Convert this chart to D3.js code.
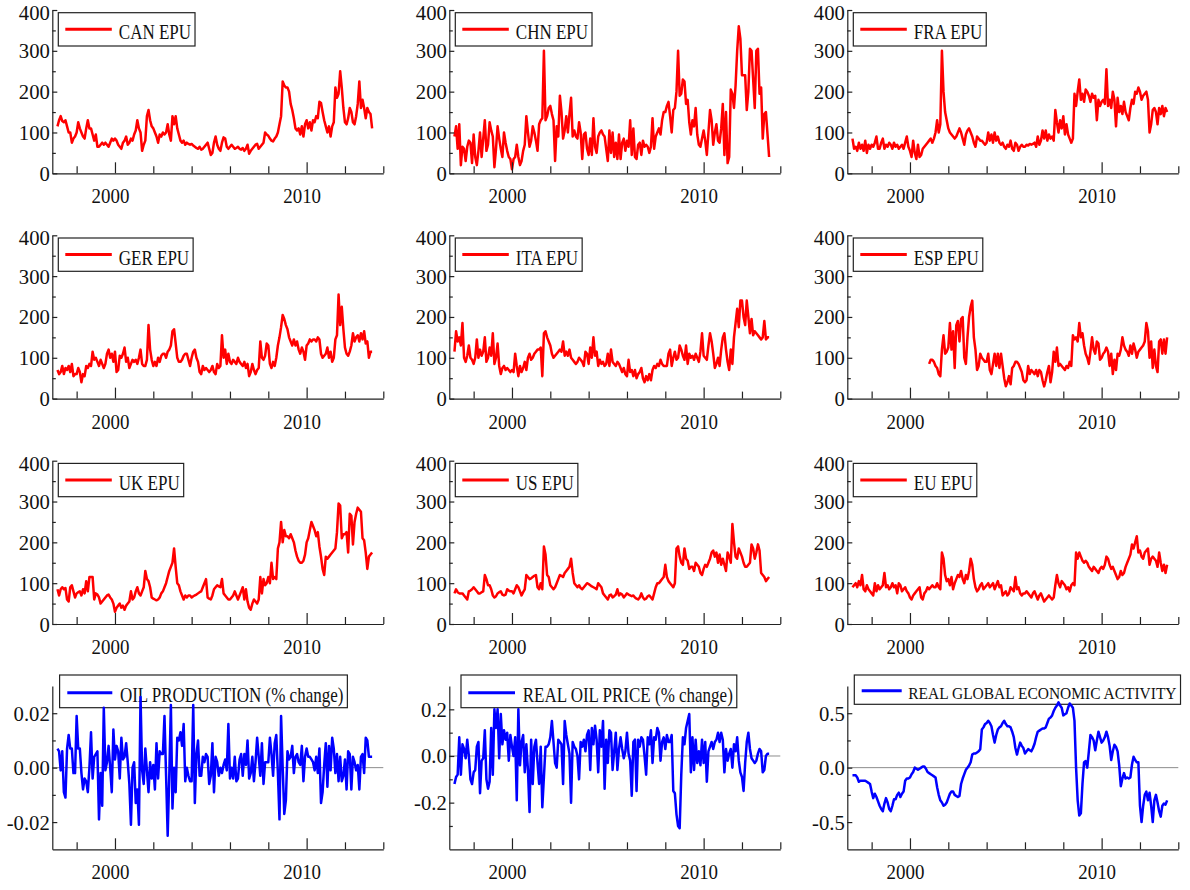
<!DOCTYPE html>
<html>
<head>
<meta charset="utf-8">
<script src="https://cdn.jsdelivr.net/npm/d3@7"></script>
<style>
  body { margin: 0; background: #fff; }
  svg text { font-family: "Liberation Serif", "Times New Roman", serif; fill: #111; }
</style>
</head>
<body>
<svg id="chart" width="1190" height="890"></svg>
<script>
// Monthly series, January of the start year onward (EPU indices, oil market, activity).
const canEPU = [
  115,130,140,128,125,130,115,100,100,75,85,90,
  100,125,110,100,90,85,110,130,110,110,95,80,
  95,65,65,70,75,70,75,70,65,75,85,80,
  85,80,70,65,60,75,80,90,70,75,85,80,
  95,105,130,110,100,55,70,80,140,155,130,115,
  110,100,90,75,95,90,100,95,100,120,95,80,
  140,120,140,110,95,80,75,80,70,75,72,70,
  72,68,65,62,60,65,58,60,65,70,75,60,
  45,50,75,90,70,60,55,75,88,85,65,60,
  65,70,65,60,62,65,60,58,62,55,60,70,
  48,55,60,65,70,72,60,65,70,75,100,95,
  92,85,80,78,85,90,100,120,140,225,215,210,
  210,200,170,155,135,110,105,110,95,115,90,120,
  130,110,125,105,130,125,140,135,175,172,150,130,
  115,100,115,90,115,125,210,185,195,250,210,160,
  125,120,135,160,150,125,120,140,170,225,160,180,
  160,135,160,150,145,110
];
const chnEPU = [
  90,115,60,120,20,65,60,30,65,80,75,25,
  95,40,20,55,100,40,85,130,55,70,125,105,
  90,15,60,115,85,60,40,100,75,55,40,35,
  10,35,40,70,40,20,30,55,70,140,100,65,
  80,115,100,80,55,120,130,135,300,130,140,160,
  165,145,130,30,115,90,190,150,85,105,140,100,
  145,185,90,105,90,85,125,100,35,95,100,60,
  45,85,45,135,65,50,90,100,105,95,90,60,
  30,105,50,100,40,75,35,95,35,75,85,55,
  80,65,130,45,110,40,35,70,75,45,80,65,
  70,65,50,65,135,60,90,100,110,95,130,150,
  150,165,175,140,100,155,160,200,300,190,195,230,
  225,170,180,125,95,130,115,160,95,70,65,85,
  105,80,45,100,155,130,70,100,120,80,75,110,
  170,45,150,25,40,205,195,160,215,300,360,330,
  240,240,240,155,200,305,300,230,160,300,305,195,
  210,85,145,150,95,40
];
const fraEPU = [
  85,60,65,55,75,60,70,55,80,50,70,60,
  70,65,75,90,60,60,75,85,60,70,65,75,
  70,60,75,65,70,60,65,70,60,75,90,65,
  55,40,80,50,35,70,40,45,60,65,70,75,
  80,85,75,85,100,130,100,120,300,200,150,130,
  110,100,95,90,85,90,100,110,100,85,70,95,
  105,110,100,90,75,65,90,85,80,80,75,70,
  75,100,80,95,75,100,80,90,75,70,75,65,
  60,70,65,80,60,55,75,70,55,65,70,65,
  65,70,68,72,70,72,75,65,90,70,80,105,
  85,105,80,95,85,90,80,155,125,100,130,110,
  140,95,120,95,85,75,85,195,165,200,230,180,
  195,175,205,200,190,175,195,185,190,130,180,165,
  175,180,170,255,165,180,160,200,180,115,185,150,
  165,145,175,150,140,130,160,180,170,200,195,210,
  200,180,190,195,200,180,100,120,155,160,150,120,
  160,145,165,140,160,150
];
const gerEPU = [
  70,60,65,80,60,75,70,80,65,85,55,60,
  60,75,65,40,60,55,80,75,85,80,115,95,
  100,90,80,95,85,75,85,110,120,100,110,90,
  115,65,70,105,100,110,125,90,100,75,85,95,
  90,95,85,100,120,85,80,80,95,180,120,95,
  80,90,80,100,90,105,110,110,100,115,120,130,
  165,170,135,100,90,90,95,105,110,110,95,80,
  100,115,120,100,90,65,60,80,70,75,70,65,
  70,80,65,60,85,75,80,155,100,120,85,110,
  90,85,95,90,85,100,90,85,80,90,75,85,
  55,65,85,70,60,70,75,140,100,95,105,135,
  130,85,75,90,80,100,130,150,175,205,195,180,
  170,150,140,130,145,130,140,120,110,125,115,95,
  130,135,145,140,145,145,140,150,145,110,100,105,
  110,125,100,115,90,100,145,155,255,180,225,170,
  125,110,105,115,130,160,140,150,155,140,160,145,
  165,135,140,100,115,115
];
const itaEPU = [
  115,165,140,150,130,185,100,90,105,130,100,95,
  85,100,145,100,120,105,115,150,90,100,125,105,
  160,85,100,135,80,60,75,80,70,75,70,65,
  70,65,110,80,55,80,65,75,90,70,100,110,
  95,100,110,115,120,120,125,55,160,165,150,140,
  130,110,100,105,110,115,120,115,140,105,115,105,
  120,100,95,90,85,90,100,95,90,80,115,110,
  85,125,100,150,105,115,80,95,85,90,80,85,
  110,80,120,90,85,80,90,85,75,65,75,60,
  55,95,65,70,55,70,50,60,65,75,50,40,
  55,45,60,45,70,80,75,85,80,95,85,80,
  80,80,110,120,80,100,115,95,100,130,120,105,
  95,130,85,110,100,105,95,110,100,90,115,160,
  105,100,95,130,160,140,110,75,85,100,80,120,
  150,160,120,90,70,120,85,150,185,220,175,240,
  240,200,180,240,200,160,195,155,165,160,155,150,
  145,150,190,145,150,150
];
// Spain's index starts in January 2001
const espEPU = [
  85,95,95,90,80,75,60,55,120,155,110,115,
  125,185,120,165,75,180,190,140,195,200,100,85,
  150,200,225,240,150,120,70,80,110,100,95,90,
  90,110,70,60,85,110,80,110,75,110,80,50,
  30,40,55,35,75,80,90,90,85,75,65,45,
  40,45,80,60,70,65,60,70,55,70,65,45,
  30,45,65,80,40,65,115,90,125,80,85,80,
  75,70,80,75,90,80,155,145,150,140,185,150,
  160,130,110,100,85,115,150,120,110,140,135,95,
  100,110,115,125,115,80,110,60,95,70,110,105,
  120,150,130,120,115,105,130,110,135,120,100,115,
  120,125,130,140,185,165,100,140,75,120,80,65,
  140,145,110,145,110,150
];
const ukEPU = [
  85,70,85,90,85,88,60,55,90,95,80,65,
  75,78,80,70,85,75,105,80,115,115,115,60,
  75,72,65,50,55,60,65,70,72,65,60,50,
  30,40,45,50,40,45,35,45,50,55,80,60,
  65,80,90,75,70,80,90,130,110,105,90,65,
  62,60,58,60,65,75,80,90,100,115,130,140,
  150,185,140,100,95,80,70,60,70,65,70,70,
  65,68,70,72,75,78,80,90,100,110,65,62,
  60,70,85,90,95,92,90,110,75,70,65,60,
  60,65,70,80,70,60,70,80,90,60,85,55,
  40,35,50,60,55,50,60,115,75,110,95,100,
  115,100,150,110,115,110,185,200,250,200,230,215,
  215,210,220,210,200,180,165,155,150,150,155,170,
  200,210,230,250,240,230,215,225,190,165,135,120,
  165,160,165,170,175,180,185,225,295,290,210,220,
  220,225,175,270,265,195,250,270,285,280,275,210,
  205,175,135,165,170,175
];
const usEPU = [
  75,85,78,75,75,75,70,65,60,80,82,85,
  90,85,80,75,75,78,80,120,110,95,95,85,
  70,65,68,75,78,80,72,70,72,85,82,80,
  80,75,85,95,90,80,70,78,85,120,115,110,
  112,115,118,120,90,85,100,85,190,170,120,115,
  95,90,85,90,100,110,120,118,115,125,130,135,
  140,160,125,100,95,90,95,88,85,90,95,100,
  98,95,92,90,88,85,100,95,90,75,70,65,
  60,70,72,65,68,72,85,70,75,72,65,70,
  75,72,70,68,70,65,62,60,65,75,65,60,
  62,68,70,65,60,75,90,100,100,105,110,115,
  145,115,105,100,95,90,100,185,190,165,150,145,
  185,160,155,135,140,140,130,150,145,140,125,120,
  135,145,140,150,160,175,180,165,175,150,170,145,
  160,145,130,175,165,150,245,200,165,160,185,175,
  165,150,140,140,145,150,195,185,160,175,195,180,
  125,120,115,105,110,115
];
const euEPU = [
  90,95,100,90,105,95,120,85,80,95,85,80,
  75,70,100,80,95,85,90,95,125,90,95,85,
  90,100,90,95,75,100,95,80,85,90,80,75,
  65,60,70,75,80,85,90,65,60,75,80,90,
  85,90,95,90,90,100,90,85,175,160,120,105,
  110,95,115,85,100,110,120,115,130,110,100,120,
  110,130,160,145,110,90,80,85,95,100,85,90,
  95,100,90,95,100,85,95,105,90,95,70,75,
  80,70,75,90,85,80,115,85,90,75,70,75,
  75,80,75,70,65,75,80,70,60,70,75,65,
  55,60,65,70,65,60,65,95,120,100,90,105,
  100,95,85,90,80,95,100,95,175,160,175,165,
  155,150,155,150,140,135,130,140,135,130,125,135,
  140,135,145,165,160,145,135,140,130,120,110,115,
  130,120,125,140,150,160,170,195,185,200,215,175,
  180,165,160,175,180,185,145,160,165,160,155,140,
  175,150,130,145,125,145
];
const oilProduction = [
  0.007,0.006,-0.001,0.006,-0.009,-0.011,0.007,0.012,0.007,0.007,-0.002,-0.002,
  0.019,0.007,0.007,-0.002,-0.008,-0.004,-0.005,-0.009,0.000,0.013,-0.004,0.004,
  0.005,0.006,-0.019,-0.002,-0.014,0.022,-0.001,0.002,0.008,0.000,-0.009,0.014,
  0.003,0.008,0.006,-0.004,0.011,0.003,0.004,0.009,0.002,-0.006,-0.021,0.000,
  0.002,-0.013,-0.008,-0.021,0.026,-0.001,-0.006,0.007,-0.001,-0.009,0.002,-0.004,
  0.001,-0.008,0.009,-0.004,0.006,0.005,0.005,0.019,-0.003,-0.025,-0.003,0.023,
  -0.015,0.000,-0.009,0.011,0.010,0.013,0.008,0.016,-0.005,0.000,-0.003,-0.005,
  -0.005,0.023,-0.013,0.005,0.010,-0.003,-0.003,0.004,0.002,0.005,0.004,-0.006,
  -0.003,0.009,-0.009,0.004,0.002,-0.003,0.000,-0.002,0.001,0.003,-0.001,0.016,
  -0.004,0.000,-0.004,0.004,-0.005,-0.004,0.003,0.005,-0.003,0.005,0.001,0.010,
  -0.004,-0.002,0.004,-0.005,0.002,0.011,0.004,-0.003,0.009,-0.006,0.002,0.002,
  0.002,0.011,0.005,-0.003,0.009,0.012,-0.002,-0.019,0.019,0.000,-0.017,-0.012,
  0.006,0.003,0.004,0.008,-0.002,0.004,0.005,0.002,0.001,0.008,-0.005,0.004,
  0.007,0.004,0.004,0.003,0.002,-0.001,0.004,-0.002,0.007,-0.013,-0.009,0.001,
  0.009,-0.007,0.008,-0.001,0.011,0.007,-0.002,0.005,-0.005,0.004,-0.005,-0.003,
  0.003,-0.008,0.006,0.005,-0.008,0.004,0.002,-0.001,0.001,-0.008,0.004,0.005,
  -0.002,0.011,0.010,0.004,0.004,0.004
];
const realOilPrice = [
  -0.12,-0.09,-0.08,0.08,-0.08,0.05,0.03,-0.01,0.07,0.00,-0.10,-0.12,
  -0.07,-0.06,0.04,0.06,-0.16,-0.02,-0.01,0.11,-0.10,-0.14,-0.11,0.12,
  -0.08,0.20,0.12,0.20,-0.01,0.18,0.05,0.11,0.07,0.10,-0.02,0.09,
  0.04,0.00,0.08,-0.19,0.20,-0.04,0.06,0.09,-0.07,0.05,-0.06,-0.24,
  0.07,-0.12,0.04,0.07,-0.03,-0.12,0.04,-0.22,-0.09,0.04,0.04,0.05,
  0.08,0.15,0.06,-0.03,-0.05,0.07,0.06,0.05,-0.12,0.15,0.09,0.05,
  0.01,-0.20,0.06,0.04,0.03,0.00,-0.10,0.06,0.04,0.07,0.02,0.09,
  0.11,-0.06,0.12,0.05,0.13,0.07,-0.07,0.11,0.04,0.15,-0.14,0.07,
  -0.03,0.11,0.10,-0.06,0.02,0.10,-0.06,0.03,0.08,0.03,-0.01,0.02,
  0.10,0.01,-0.02,-0.17,0.06,0.07,-0.15,0.07,0.04,0.08,0.07,0.00,
  -0.08,0.08,0.05,0.11,-0.03,0.08,0.07,0.12,0.10,-0.02,0.06,0.08,
  0.03,0.09,0.06,0.06,0.09,-0.15,-0.16,-0.25,-0.30,-0.31,-0.08,0.08,
  0.05,0.12,0.15,0.18,-0.07,0.08,-0.06,0.07,-0.03,0.02,-0.04,0.07,
  -0.03,0.06,-0.11,0.02,0.04,0.06,0.03,0.06,0.07,0.10,0.06,0.10,
  0.07,-0.07,0.03,-0.02,0.01,0.03,-0.05,0.05,0.02,0.08,-0.02,-0.07,
  -0.09,-0.15,-0.03,0.06,0.10,0.03,-0.01,-0.02,-0.03,-0.02,0.01,0.03,
  0.02,-0.07,-0.06,0.00,0.01,0.01
];
const globalActivity = [
  -0.07,-0.07,-0.07,-0.09,-0.13,-0.12,-0.12,-0.12,-0.12,-0.13,-0.14,-0.15,
  -0.22,-0.28,-0.24,-0.27,-0.31,-0.35,-0.38,-0.40,-0.33,-0.28,-0.32,-0.38,
  -0.40,-0.35,-0.29,-0.29,-0.25,-0.23,-0.27,-0.24,-0.22,-0.12,-0.10,-0.10,
  -0.09,-0.06,-0.04,0.00,-0.01,-0.02,-0.01,0.00,0.01,0.01,-0.01,-0.04,
  -0.05,-0.06,-0.07,-0.08,-0.09,-0.18,-0.25,-0.30,-0.32,-0.35,-0.34,-0.32,
  -0.28,-0.24,-0.22,-0.22,-0.25,-0.26,-0.27,-0.26,-0.15,-0.10,-0.06,-0.02,
  0.00,0.02,0.05,0.12,0.13,0.13,0.14,0.15,0.17,0.35,0.37,0.40,
  0.41,0.43,0.41,0.38,0.30,0.23,0.30,0.35,0.37,0.38,0.41,0.43,
  0.40,0.38,0.38,0.37,0.33,0.28,0.18,0.12,0.18,0.23,0.20,0.18,
  0.13,0.15,0.17,0.16,0.15,0.18,0.22,0.28,0.33,0.34,0.35,0.36,
  0.36,0.37,0.41,0.45,0.46,0.48,0.52,0.55,0.57,0.60,0.57,0.55,
  0.48,0.49,0.50,0.55,0.59,0.57,0.55,0.43,0.00,-0.30,-0.44,-0.42,
  -0.15,0.05,0.06,0.00,0.15,0.30,0.28,0.25,0.16,0.25,0.33,0.28,
  0.23,0.25,0.28,0.33,0.28,0.20,0.07,0.15,0.21,0.19,0.15,0.02,
  -0.17,-0.10,-0.05,-0.10,-0.09,-0.10,-0.09,0.03,0.10,0.07,0.05,0.05,
  -0.35,-0.50,-0.35,-0.25,-0.22,-0.30,-0.23,-0.35,-0.50,-0.30,-0.25,-0.32,
  -0.40,-0.45,-0.35,-0.33,-0.34,-0.30
];

// Axis ticks
const yearTicks = [1998, 2000, 2002, 2004, 2006, 2008, 2010, 2012, 2014];
const yearLabels = [2000, 2010];
const epuTicks = [0, 100, 200, 300, 400];
const epuMinor = [50, 150, 250, 350];
const prodTicks = [-0.02, 0, 0.02];
const prodMinor = [-0.01, 0.01];
const priceTicks = [-0.2, 0, 0.2];
const priceMinor = [-0.3, -0.1, 0.1];
const activityTicks = [-0.5, 0, 0.5];
const activityMinor = [-0.25, 0.25];

const hyphen = f => v => f(v).replace("\u2212", "-");
const axes = {
  epu:      { domain: [0, 400],        major: epuTicks,      minor: epuMinor,      fmt: d3.format("d"),           zero: false },
  prod:     { domain: [-0.03, 0.03],   major: prodTicks,     minor: prodMinor,     fmt: hyphen(d3.format(".2f")), zero: true },
  price:    { domain: [-0.4, 0.3],     major: priceTicks,    minor: priceMinor,    fmt: hyphen(d3.format(".1f")), zero: true },
  activity: { domain: [-0.75, 0.75],   major: activityTicks, minor: activityMinor, fmt: hyphen(d3.format(".1f")), zero: true }
};

const RED = "#ff0000", BLUE = "#0000ff";

// Legend placement, relative to the panel's left axis and top edge
const legendEPU  = { bx: 6,   by: 2.7, bh: 33.3, l0: 13,   l1: 59.5, ly: 19.3, tx: 66.5, ty: 29.3, fs: 20, sx: 0.85 };
const legendProd = { bx: 7.3, by: -11, bh: 32.7, l0: 15,   l1: 60,   ly: 6.7,  tx: 67.6, ty: 15.7, fs: 20, sx: 0.85 };
const legendPrice= { bx: 11.7,by: -11, bh: 32.7, l0: 19,   l1: 65.7, ly: 6.7,  tx: 73.4, ty: 15.7, fs: 20, sx: 0.85 };
const legendAct  = { bx: 7,   by: -11, bh: 29.3, l0: 14.4, l1: 54.4, ly: 4.7,  tx: 61,   ty: 13.3, fs: 17, sx: 0.91 };

const panels = [
  { name: "CAN EPU", values: canEPU, start: 1997, axis: axes.epu, color: RED, col: 0, row: 0, legend: legendEPU },
  { name: "CHN EPU", values: chnEPU, start: 1997, axis: axes.epu, color: RED, col: 1, row: 0, legend: legendEPU },
  { name: "FRA EPU", values: fraEPU, start: 1997, axis: axes.epu, color: RED, col: 2, row: 0, legend: legendEPU },
  { name: "GER EPU", values: gerEPU, start: 1997, axis: axes.epu, color: RED, col: 0, row: 1, legend: legendEPU },
  { name: "ITA EPU", values: itaEPU, start: 1997, axis: axes.epu, color: RED, col: 1, row: 1, legend: legendEPU },
  { name: "ESP EPU", values: espEPU, start: 2001, axis: axes.epu, color: RED, col: 2, row: 1, legend: legendEPU },
  { name: "UK EPU",  values: ukEPU,  start: 1997, axis: axes.epu, color: RED, col: 0, row: 2, legend: legendEPU },
  { name: "US EPU",  values: usEPU,  start: 1997, axis: axes.epu, color: RED, col: 1, row: 2, legend: legendEPU },
  { name: "EU EPU",  values: euEPU,  start: 1997, axis: axes.epu, color: RED, col: 2, row: 2, legend: legendEPU },
  { name: "OIL PRODUCTION (% change)", values: oilProduction, start: 1997, axis: axes.prod, color: BLUE, col: 0, row: 3, legend: legendProd },
  { name: "REAL OIL PRICE (% change)", values: realOilPrice, start: 1997, axis: axes.price, color: BLUE, col: 1, row: 3, legend: legendPrice },
  { name: "REAL GLOBAL ECONOMIC ACTIVITY", values: globalActivity, start: 1997, axis: axes.activity, color: BLUE, col: 2, row: 3, legend: legendAct }
];

const colX = [52.3, 449.3, 847.3];
const rowY = [10, 235.3, 460.7, 686];
const plotW = 331, plotH = 163.3;
const xDomain = [1996.73, 2014];
const AXIS = "#222";

const svg = d3.select("#chart");

panels.forEach(p => {
  const x0 = colX[p.col], y0 = rowY[p.row];
  const g = svg.append("g");
  const x = d3.scaleLinear().domain(xDomain).range([x0, x0 + plotW]);
  const y = d3.scaleLinear().domain(p.axis.domain).range([y0 + plotH, y0]);

  if (p.axis.zero) {
    g.append("line")
      .attr("x1", x0).attr("x2", x0 + plotW)
      .attr("y1", y(0)).attr("y2", y(0))
      .attr("stroke", "#8c8c8c").attr("stroke-width", 1);
  }

  // legend (drawn beneath the series so tall spikes stay visible)
  const L = p.legend;
  const lg = g.append("g");
  const box = lg.append("rect")
    .attr("x", x0 + L.bx).attr("y", y0 + L.by)
    .attr("height", L.bh)
    .attr("fill", "#fff").attr("stroke", AXIS).attr("stroke-width", 1.2);
  lg.append("line")
    .attr("x1", x0 + L.l0).attr("x2", x0 + L.l1)
    .attr("y1", y0 + L.ly).attr("y2", y0 + L.ly)
    .attr("stroke", p.color).attr("stroke-width", 3);
  const t = lg.append("text")
    .attr("font-size", L.fs)
    .attr("transform", `translate(${x0 + L.tx},${y0 + L.ty}) scale(${L.sx},1)`)
    .text(p.name);
  const tw = t.node().getComputedTextLength() * L.sx;
  box.attr("width", L.tx + tw + 4 - L.bx);

  // series line
  const pts = p.values.map((v, i) => ({ t: p.start + i / 12, v }));
  g.append("path")
    .datum(pts)
    .attr("fill", "none")
    .attr("stroke", p.color)
    .attr("stroke-width", 2.5)
    .attr("stroke-linejoin", "round")
    .attr("d", d3.line().x(d => x(d.t)).y(d => y(d.v)));

  // x axis: ticks point up into the plot, longer at labelled years
  const gx = g.append("g")
    .attr("transform", `translate(0,${y0 + plotH})`)
    .call(d3.axisBottom(x).tickValues(yearTicks).tickSizeInner(-7).tickSizeOuter(0).tickFormat(""));
  gx.select(".domain").attr("stroke", AXIS).attr("stroke-width", 1.2);
  gx.selectAll(".tick line").attr("stroke", AXIS).attr("stroke-width", 1.2)
    .attr("y2", d => yearLabels.includes(d) ? -11 : -7);
  gx.selectAll(".tick text").remove();

  yearLabels.forEach(yr => {
    g.append("text")
      .attr("text-anchor", "middle")
      .attr("font-size", 22)
      .attr("transform", `translate(${x(yr) - 4.5},${y0 + plotH + 30}) scale(0.86,1)`)
      .text(yr);
  });

  // y axis: ticks point right into the plot
  const allY = p.axis.major.concat(p.axis.minor);
  const gy = g.append("g")
    .attr("transform", `translate(${x0},0)`)
    .call(d3.axisLeft(y).tickValues(allY).tickSizeInner(-5).tickSizeOuter(0).tickFormat(""));
  gy.select(".domain").attr("stroke", AXIS).attr("stroke-width", 1.2);
  gy.selectAll(".tick line").attr("stroke", AXIS).attr("stroke-width", 1.2)
    .attr("x2", d => p.axis.major.includes(d) ? 5 : 3.5);
  gy.selectAll(".tick text").remove();

  const topValue = p.axis.domain[1];
  p.axis.major.forEach(v => {
    // the label at the very top of the axis sits a little lower to stay on the page
    const dy = v === topValue ? 10 : 7.5;
    g.append("text")
      .attr("text-anchor", "end")
      .attr("font-size", 22)
      .attr("transform", `translate(${x0 - 2.5},${y(v) + dy}) scale(0.94,1)`)
      .text(p.axis.fmt(v));
  });
});
</script>
</body>
</html>
